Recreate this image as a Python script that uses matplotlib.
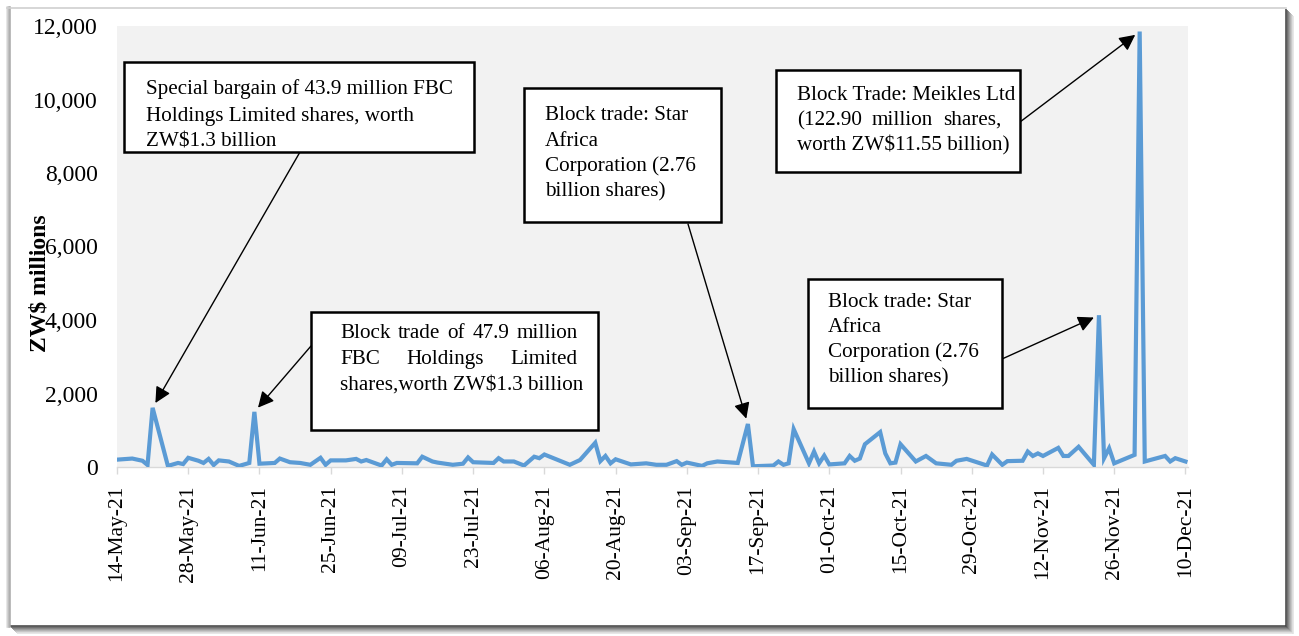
import matplotlib
matplotlib.use("Agg")
import matplotlib.pyplot as plt
import matplotlib.dates as mdates
import matplotlib.patches as mpatches
from matplotlib.ticker import FuncFormatter
import pandas as pd

# ---------------- data ----------------
dates = [
    "2021-05-14", "2021-05-17", "2021-05-19", "2021-05-20", "2021-05-21", "2021-05-24",
    "2021-05-26", "2021-05-27", "2021-05-28", "2021-05-30", "2021-05-31", "2021-06-01",
    "2021-06-02", "2021-06-03", "2021-06-05", "2021-06-07", "2021-06-09", "2021-06-10",
    "2021-06-11", "2021-06-14", "2021-06-15", "2021-06-17", "2021-06-19", "2021-06-21",
    "2021-06-23", "2021-06-24", "2021-06-25", "2021-06-28", "2021-06-30", "2021-07-01",
    "2021-07-02", "2021-07-05", "2021-07-06", "2021-07-07", "2021-07-08", "2021-07-12",
    "2021-07-13", "2021-07-15", "2021-07-16", "2021-07-19", "2021-07-21", "2021-07-22",
    "2021-07-23", "2021-07-27", "2021-07-28", "2021-07-29", "2021-07-31", "2021-08-02",
    "2021-08-04", "2021-08-05", "2021-08-06", "2021-08-11", "2021-08-13", "2021-08-16",
    "2021-08-17", "2021-08-18", "2021-08-19", "2021-08-20", "2021-08-23", "2021-08-26",
    "2021-08-28", "2021-08-30", "2021-09-01", "2021-09-02", "2021-09-03", "2021-09-06",
    "2021-09-07", "2021-09-09", "2021-09-13", "2021-09-15", "2021-09-16", "2021-09-20",
    "2021-09-21", "2021-09-22", "2021-09-23", "2021-09-24", "2021-09-27", "2021-09-28",
    "2021-09-29", "2021-09-30", "2021-10-01", "2021-10-04", "2021-10-05", "2021-10-06",
    "2021-10-07", "2021-10-08", "2021-10-11", "2021-10-12", "2021-10-13", "2021-10-14",
    "2021-10-15", "2021-10-18", "2021-10-20", "2021-10-22", "2021-10-25", "2021-10-26",
    "2021-10-28", "2021-11-01", "2021-11-02", "2021-11-04", "2021-11-05", "2021-11-08",
    "2021-11-09", "2021-11-10", "2021-11-11", "2021-11-12", "2021-11-15", "2021-11-16",
    "2021-11-17", "2021-11-19", "2021-11-22", "2021-11-23", "2021-11-24", "2021-11-25",
    "2021-11-26", "2021-11-30", "2021-12-01", "2021-12-02", "2021-12-06", "2021-12-07",
    "2021-12-08", "2021-12-10",
]
values = [
    200, 230, 170, 55, 1610, 30,
    110, 80, 250, 170, 110, 220,
    55, 180, 150, 30, 110, 1500,
    90, 110, 230, 130, 110, 60,
    250, 60, 180, 180, 220, 150,
    190, 40, 210, 60, 110, 100,
    280, 150, 120, 60, 90, 260,
    130, 110, 240, 150, 150, 40,
    280, 240, 340, 60, 190, 660,
    160, 300, 100, 210, 70, 100,
    60, 60, 160, 60, 120, 30,
    100, 150, 110, 1170, 20, 40,
    150, 60, 100, 1030, 100, 420,
    100, 310, 70, 100, 300, 170,
    230, 620, 950, 370, 100, 120,
    620, 150, 300, 100, 60, 170,
    220, 40, 340, 60, 160, 170,
    420, 300, 370, 300, 520, 300,
    300, 550, 60, 4130, 240, 510,
    100, 330, 11850, 150, 300, 150,
    240, 150,
]
tick_start, tick_end = "2021-05-14", "2021-12-10"
y_ticks = [0, 2000, 4000, 6000, 8000, 10000, 12000]
y_label = "ZW$ millions"

annotations = [
    # (text lines, justified-line flags, target date, box rect px, text left, text right, first baseline, line step, tail px)
    (["Special bargain of 43.9 million FBC", "Holdings Limited shares, worth", "ZW$1.3 billion"],
     [False, False, False], "2021-05-21", (124, 62, 474, 152), 146, 452, 94, 26.5, (300, 152)),
    (["Block trade of 47.9 million", "FBC Holdings Limited", "shares,worth ZW$1.3 billion"],
     [True, True, False], "2021-06-10", (311, 312, 598, 430), 340, 578, 338, 26, (311, 346)),
    (["Block trade: Star", "Africa", "Corporation (2.76", "billion shares)"],
     [False, False, False, False], "2021-09-15", (524, 88, 721, 222), 545, 700, 120, 25.5, (688, 224)),
    (["Block Trade: Meikles Ltd", "(122.90 million shares,", "worth ZW$11.55 billion)"],
     [False, True, False], "2021-12-01", (776, 70, 1020, 172), 797, 1001, 100, 25, (1020, 122)),
    (["Block trade: Star", "Africa", "Corporation (2.76", "billion shares)"],
     [False, False, False, False], "2021-11-23", (808, 279, 1002, 408), 828, 985, 307, 25, (1002, 359)),
]

# ---------------- figure ----------------
W, H = 1299, 636
SERIF = ["Liberation Serif", "DejaVu Serif"]
plt.rcParams["font.family"] = SERIF
fig = plt.figure(figsize=(W / 100, H / 100), dpi=100, facecolor="white")

def fx(x):
    return x / W

def fy(y):
    return 1 - y / H

# background frame with shadow
bg = fig.add_axes([0, 0, 1, 1], zorder=0)
bg.set_xlim(0, W)
bg.set_ylim(H, 0)
bg.axis("off")
for k in range(8):
    g = 0.25 + k * 0.09
    bg.plot([1286 + k, 1286 + k], [9 + k, 627 + k], color=(g, g, g), lw=1.1, solid_capstyle="butt")
    bg.plot([10 + k, 1286 + k], [626 + k, 626 + k], color=(g, g, g), lw=1.1, solid_capstyle="butt")
for k, g in enumerate([0.88, 0.8, 0.72, 0.66]):
    bg.plot([7 + k, 7 + k], [7, 627], color=(g, g, g), lw=1.1)
bg.plot([7, 1286], [7.5, 7.5], color="#D0D0D0", lw=1.2)

# main axes
L, R, T, B = 117, 1188, 26, 467
ax = fig.add_axes([fx(L), fy(B), (R - L) / W, (B - T) / H], zorder=2)
ax.set_facecolor("#F2F2F2")

x = pd.to_datetime(dates)
ax.plot(x, values, color="#5B9BD5", lw=3.0, solid_joinstyle="miter", zorder=3)

ax.set_ylim(0, 12000)
ax.set_xlim(pd.Timestamp(tick_start), pd.Timestamp(tick_end) + pd.Timedelta(days=0.5))
ax.set_yticks(y_ticks)
ax.yaxis.set_major_formatter(FuncFormatter(lambda v, p: f"{int(v):,}"))
xt = pd.date_range(tick_start, tick_end, freq="14D")
ax.set_xticks(xt)
ax.xaxis.set_major_formatter(mdates.DateFormatter("%d-%b-%y"))
for lab in ax.get_xticklabels():
    lab.set_rotation(90)
ax.tick_params(axis="y", length=0, pad=14, labelsize=17)
ax.tick_params(axis="x", length=5, color="#D9D9D9", width=1, pad=8, labelsize=15.5)
for s in ["top", "right", "left"]:
    ax.spines[s].set_visible(False)
ax.spines["bottom"].set_color("#D9D9D9")
ax.spines["bottom"].set_linewidth(1)

fig.text(fx(40), fy(283), y_label, rotation=90, ha="center", va="center",
         fontsize=17, fontweight="bold")

# annotations
renderer = fig.canvas.get_renderer()
FS = 15.2

def word_width(w):
    t = fig.text(0, 0, w, fontsize=FS)
    wd = t.get_window_extent(renderer).width
    t.remove()
    return wd

date_to_val = dict(zip(dates, values))
for lines, just, tdate, rect, xl, xr, yb, step, tail in annotations:
    x0, y0, x1, y1 = rect
    fig.add_artist(mpatches.Rectangle((fx(x0), fy(y1)), (x1 - x0) / W, (y1 - y0) / H,
                                      transform=fig.transFigure, facecolor="white",
                                      edgecolor="black", lw=1.8, zorder=6))
    for i, (line, j) in enumerate(zip(lines, just)):
        yy = yb + i * step
        if j:
            words = line.split(" ")
            widths = [word_width(w) for w in words]
            gap = (xr - xl - sum(widths)) / (len(words) - 1)
            cx = xl
            for w, wd in zip(words, widths):
                fig.text(fx(cx), fy(yy), w, fontsize=FS, ha="left", va="baseline", zorder=7)
                cx += wd + gap
        else:
            fig.text(fx(xl), fy(yy), line, fontsize=FS, ha="left", va="baseline", zorder=7)
    ax.annotate("", xy=(pd.Timestamp(tdate), date_to_val[tdate]), xycoords="data",
                xytext=(tail[0], H - tail[1]), textcoords="figure pixels",
                arrowprops=dict(arrowstyle="-|>", color="black", lw=1.0,
                                mutation_scale=24, shrinkA=0, shrinkB=4),
                annotation_clip=False, zorder=5)

fig.savefig("out.png", dpi=100)
